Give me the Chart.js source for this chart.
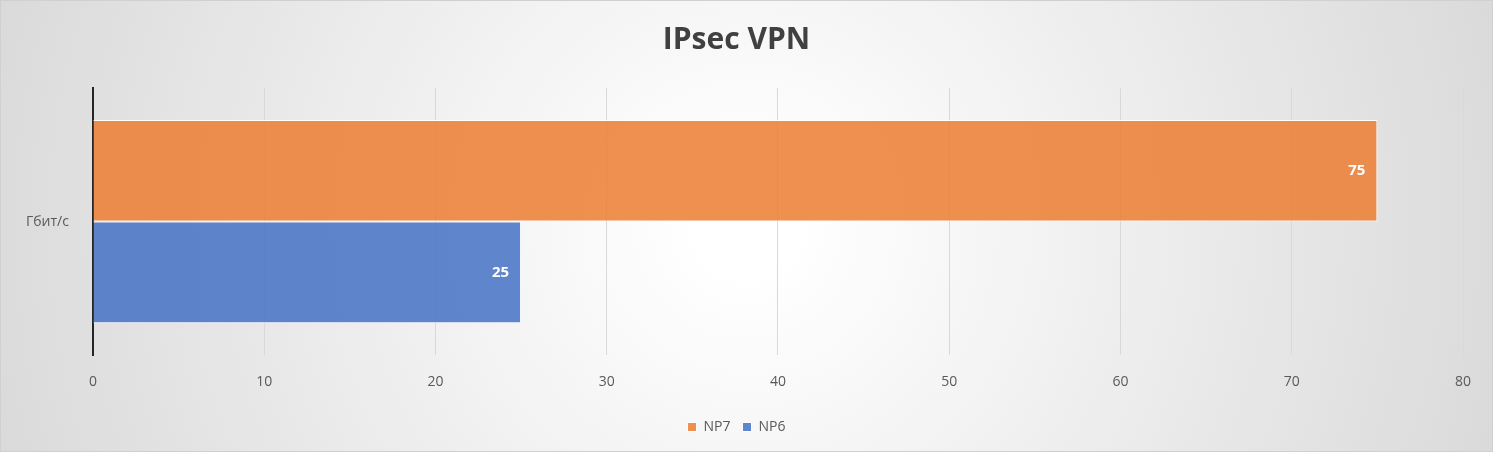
<!DOCTYPE html>
<html><head><meta charset="utf-8">
<script src="https://cdn.jsdelivr.net/npm/chart.js@4"></script>
<style>html,body{margin:0;padding:0;background:#fff}#wrap{width:1493px;height:452px}</style>
</head><body><div id="wrap"><canvas id="c"></canvas></div>
<script>
const categories = ["Гбит/с"];
const np7 = [75];
const np6 = [25];
const xTicks = [0, 10, 20, 30, 40, 50, 60, 70, 80];

const bgPlugin = {
    id: 'bg',
    beforeDraw(chart) {
        const ctx = chart.ctx, w = chart.width, h = chart.height;
        const g = ctx.createRadialGradient(w / 2, h / 2, 50, w / 2, h / 2, w * 0.6);
        g.addColorStop(0, '#ffffff');
        g.addColorStop(1, '#d4d4d4');
        ctx.save();
        ctx.fillStyle = g;
        ctx.fillRect(0, 0, w, h);
        ctx.strokeStyle = '#d0d0d0';
        ctx.strokeRect(0.5, 0.5, w - 1, h - 1);
        ctx.restore();
    }
};
const labelPlugin = {
    id: 'vals',
    afterDatasetsDraw(chart) {
        const ctx = chart.ctx;
        ctx.save();
        ctx.fillStyle = '#fff';
        ctx.font = 'bold 15px "Open Sans", sans-serif';
        ctx.textAlign = 'right';
        ctx.textBaseline = 'middle';
        chart.data.datasets.forEach((ds, i) => {
            chart.getDatasetMeta(i).data.forEach((bar, j) => {
                ctx.fillText(ds.data[j], bar.x - 12, bar.y);
            });
        });
        ctx.restore();
    }
};

new Chart(document.getElementById('c'), {
    type: 'bar',
    data: {
        labels: categories,
        datasets: [
            { label: 'NP7', data: np7, backgroundColor: 'rgba(237,125,49,0.85)', borderColor: '#fff', borderWidth: 1 },
            { label: 'NP6', data: np6, backgroundColor: 'rgba(68,114,196,0.85)', borderColor: '#fff', borderWidth: 1 }
        ]
    },
    options: {
        indexAxis: 'y',
        responsive: true,
        maintainAspectRatio: false,
        animation: false,
        categoryPercentage: 0.76,
        barPercentage: 1,
        layout: { padding: { left: 10, right: 30, top: 10, bottom: 8 } },
        plugins: {
            title: { display: true, text: 'IPsec VPN', color: '#404040',
                font: { family: '"Open Sans", sans-serif', size: 30, weight: 'bold' }, padding: { top: 12, bottom: 30 } },
            legend: { position: 'bottom',
                labels: { boxWidth: 9, boxHeight: 9, color: '#595959', padding: 12,
                    font: { family: '"Open Sans", sans-serif', size: 14 } } },
            tooltip: { enabled: false }
        },
        scales: {
            x: {
                min: 0, max: 80,
                afterBuildTicks(axis) { axis.ticks = xTicks.map(v => ({ value: v })); },
                grid: { color: '#d9d9d9', drawTicks: false },
                border: { display: false },
                ticks: { color: '#595959', padding: 18, font: { family: '"Open Sans", sans-serif', size: 14 } }
            },
            y: {
                grid: { display: false },
                border: { color: '#262626', width: 2 },
                ticks: { color: '#595959', padding: 16, font: { family: '"Open Sans", sans-serif', size: 14 } }
            }
        }
    },
    plugins: [bgPlugin, labelPlugin]
});
</script></body></html>
